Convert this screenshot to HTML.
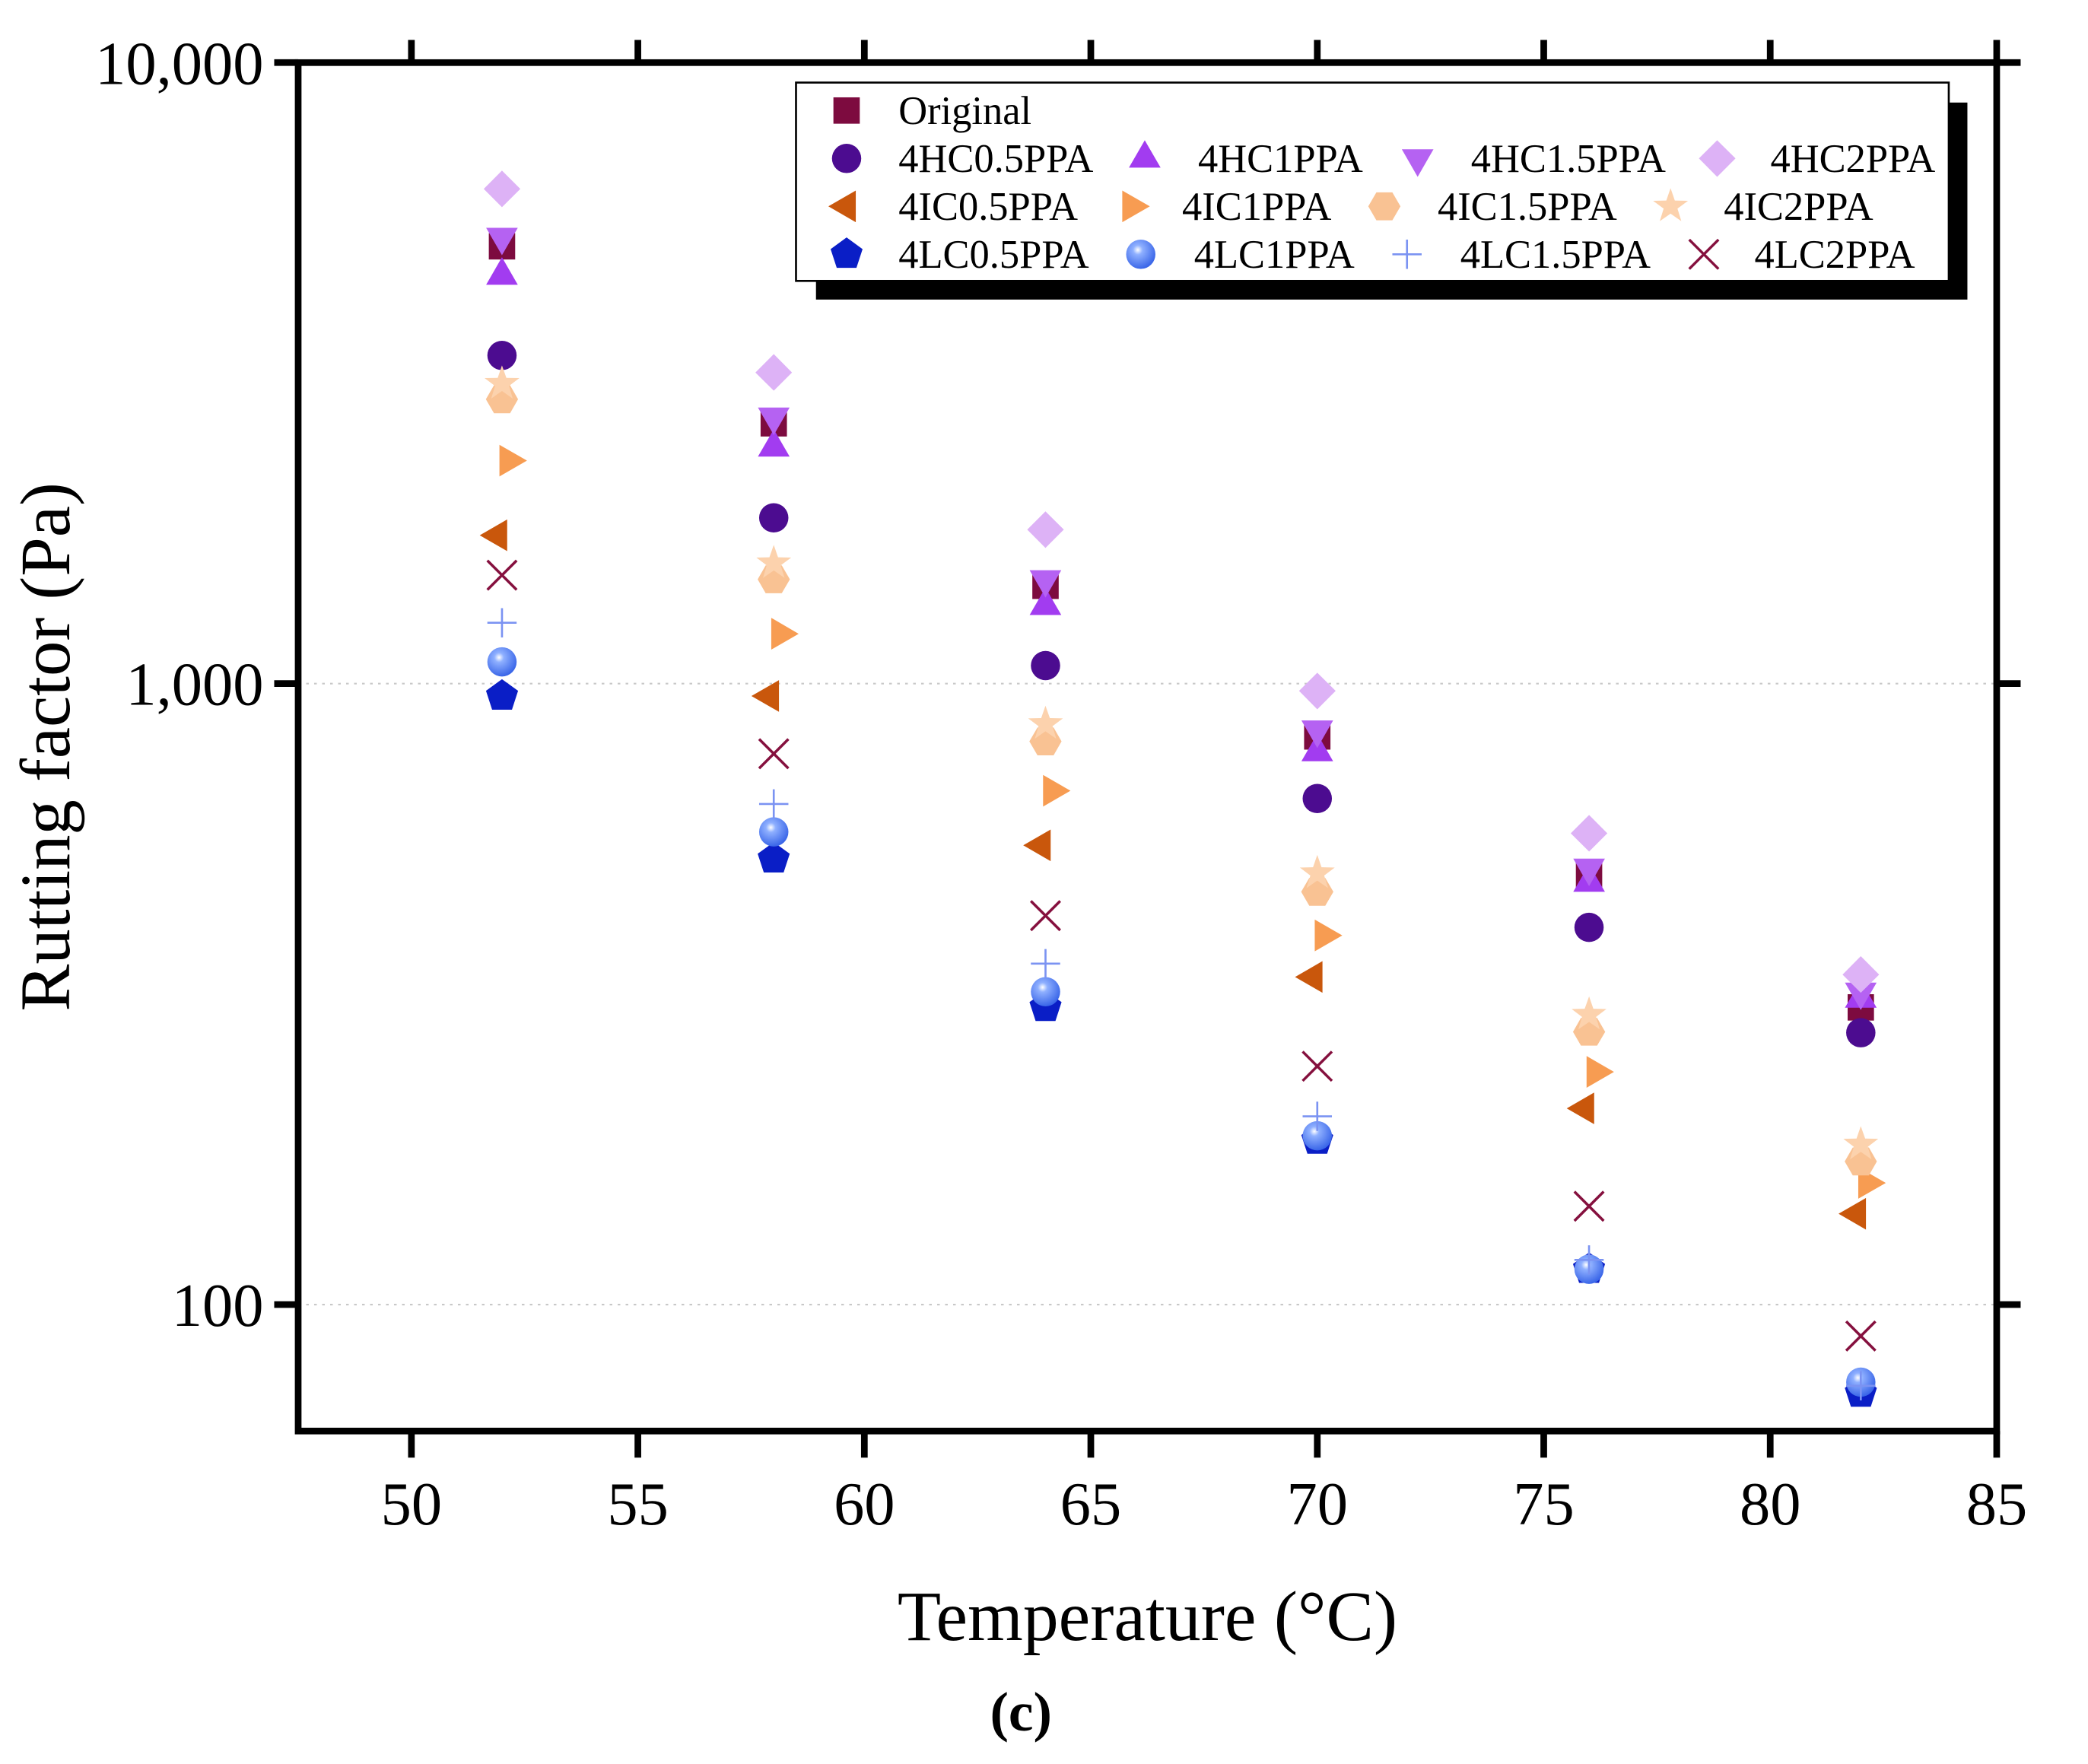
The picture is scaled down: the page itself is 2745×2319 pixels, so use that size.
<!DOCTYPE html>
<html><head><meta charset="utf-8"><style>
html,body{margin:0;padding:0;background:#fff;}
svg{display:block;font-family:"Liberation Serif",serif;}
</style></head><body>
<svg id="chart" width="2745" height="2319" viewBox="0 0 1568.6 1325.1" xmlns="http://www.w3.org/2000/svg"></svg>
<script>
const temps=[52,58,64,70,76,82];
const seriesNames=["Original","4HC0.5PPA","4HC1PPA","4HC1.5PPA","4HC2PPA","4IC0.5PPA","4IC1PPA","4IC1.5PPA","4IC2PPA","4LC0.5PPA","4LC1PPA","4LC1.5PPA","4LC2PPA"];
const vOriginal=[5060,2625,1437,822,492,301];
const vHC05=[3376,1849,1069,653,405,274];
const vHC1=[4540,2400,1334,776,478,311];
const vHC15=[5240,2690,1472,843,505,319];
const vHC2=[6260,3170,1770,973,574,340];
const vIC05=[1733,955,549,337,207,140];
const vIC1=[2286,1203,672,393,237,157];
const vIC15=[2870,1472,807,462,275,170];
const vIC2=[3040,1563,861,495,293,181];
const vLC05=[955,522,301,184,114,72];
const vLC1=[1084,577,319,187,114,75];
const vLC15=[1253,640,354,201,118,74];
const vLC2=[1495,771,423,242,144,89];
const xTicks=[50,55,60,65,70,75,80,85];
const yTicks=[100,1000,10000];
const yTickLabels=["100","1,000","10,000"];

const svg=document.getElementById('chart');
const NS="http://www.w3.org/2000/svg";
const L=224,R=1500,T=47,B=1075;
const X=v=>L+(v-47.5)/(85-47.5)*(R-L);
const Y=v=>47+(4-Math.log10(v))*466.5;
function mk(tag,attrs,parent){const e=document.createElementNS(NS,tag);for(const k in attrs)e.setAttribute(k,attrs[k]);(parent||svg).appendChild(e);return e;}

const defs=mk('defs',{});
const g=mk('radialGradient',{id:'sph',cx:'0.4',cy:'0.35',r:'0.65'},defs);
mk('stop',{offset:'0',  'stop-color':'#ffffff'},g);
mk('stop',{offset:'0.25','stop-color':'#8fb0ff'},g);
mk('stop',{offset:'1','stop-color':'#3a66e8'},g);

const styles=[
 {c:'#7d0b3f',s:'square'},{c:'#4c0c90',s:'circle'},{c:'#a23cf0',s:'tri'},{c:'#b562f2',s:'tridown'},
 {c:'#ddb2f6',s:'diamond'},{c:'#c9570c',s:'left'},{c:'#f79c52',s:'right'},{c:'#f9c293',s:'hex'},
 {c:'#fcd2ad',s:'star'},{c:'#0a1ec6',s:'pent'},{c:'url(#sph)',s:'sphere'},{c:'#7b93f2',s:'plus'},{c:'#85103e',s:'x'}];
const vals=[vOriginal,vHC05,vHC1,vHC15,vHC2,vIC05,vIC1,vIC15,vIC2,vLC05,vLC1,vLC15,vLC2];
const offs=[0,0,0,0,0,-3,5,0,0,0,0,0,0];

function marker(parent,st,x,y,r){
 r=r||11;const c=st.c;let e;
 const poly=(n,rot,rr)=>{let p=[];for(let i=0;i<n;i++){const a=rot+i*2*Math.PI/n;p.push((x+rr*Math.cos(a)).toFixed(1)+','+(y+rr*Math.sin(a)).toFixed(1));}return p.join(' ');};
 switch(st.s){
  case 'square':e=mk('rect',{x:x-r*0.9,y:y-r*0.9,width:r*1.8,height:r*1.8,fill:c},parent);break;
  case 'circle':e=mk('circle',{cx:x,cy:y,r:r,fill:c},parent);break;
  case 'sphere':e=mk('circle',{cx:x,cy:y,r:r,fill:c},parent);break;
  case 'tri':e=mk('polygon',{points:poly(3,-Math.PI/2,r*1.25),fill:c},parent);break;
  case 'tridown':e=mk('polygon',{points:poly(3,Math.PI/2,r*1.25),fill:c},parent);break;
  case 'left':e=mk('polygon',{points:poly(3,Math.PI,r*1.25),fill:c},parent);break;
  case 'right':e=mk('polygon',{points:poly(3,0,r*1.25),fill:c},parent);break;
  case 'diamond':e=mk('polygon',{points:poly(4,0,r*1.25),fill:c},parent);break;
  case 'hex':e=mk('polygon',{points:poly(6,0,r*1.1),fill:c},parent);break;
  case 'pent':e=mk('polygon',{points:poly(5,-Math.PI/2,r*1.15),fill:c},parent);break;
  case 'star':{let p=[];for(let i=0;i<10;i++){const a=-Math.PI/2+i*Math.PI/5;const rr=i%2?r*0.5:r*1.25;p.push((x+rr*Math.cos(a)).toFixed(1)+','+(y+rr*Math.sin(a)).toFixed(1));}e=mk('polygon',{points:p.join(' '),fill:c},parent);break;}
  case 'plus':e=mk('path',{d:`M${x-r} ${y}H${x+r}M${x} ${y-r}V${y+r}`,stroke:c,'stroke-width':1.5,fill:'none'},parent);break;
  case 'x':e=mk('path',{d:`M${x-r} ${y-r}L${x+r} ${y+r}M${x-r} ${y+r}L${x+r} ${y-r}`,stroke:c,'stroke-width':2,fill:'none'},parent);break;
 }
 return e;
}

yTicks.slice(0,2).forEach(v=>{const gl=mk('line',{x1:L,x2:R,y1:Y(v),y2:Y(v),stroke:'#c8c8c8','stroke-width':1.2,'stroke-dasharray':'2,4'});

});

vals.forEach((arr,si)=>{
 const grp=mk('g',{});
 
 
 arr.forEach((v,i)=>{const m=marker(grp,styles[si],X(temps[i])+offs[si],Y(v));
  
  });
});

const frame=mk('rect',{x:L,y:T,width:R-L,height:B-T,fill:'none',stroke:'#000','stroke-width':5});


xTicks.forEach(v=>{
 mk('line',{x1:X(v),x2:X(v),y1:B,y2:B+20,stroke:'#000','stroke-width':5});
 mk('line',{x1:X(v),x2:X(v),y1:T,y2:T-17,stroke:'#000','stroke-width':5});
 const t=mk('text',{x:X(v),y:1145,'font-size':46,'text-anchor':'middle',fill:'#000'});t.textContent=v;
 
 
});
yTicks.forEach((v,i)=>{
 mk('line',{x1:L-18,x2:L,y1:Y(v),y2:Y(v),stroke:'#000','stroke-width':5});
 mk('line',{x1:R,x2:R+18,y1:Y(v),y2:Y(v),stroke:'#000','stroke-width':5});
 const t=mk('text',{x:198,y:Y(v)+16,'font-size':46,'text-anchor':'end',fill:'#000'});t.textContent=yTickLabels[i];
 
 
});
const xt=mk('text',{x:862,y:1232,'font-size':53.5,'text-anchor':'middle',fill:'#000'});xt.textContent='Temperature (°C)';


const ct=mk('text',{x:767,y:1300,'font-size':42,'font-weight':'bold','text-anchor':'middle',fill:'#000'});ct.textContent='(c)';


const yt=mk('text',{x:0,y:0,'font-size':53,'text-anchor':'middle',fill:'#000',transform:'translate(52,561) rotate(-90)'});yt.textContent='Rutting factor (Pa)';



const lg=mk('g',{});


mk('rect',{x:613,y:77,width:865,height:148,fill:'#000'},lg);
mk('rect',{x:598,y:62,width:866,height:149,fill:'#fff',stroke:'#000','stroke-width':1.5},lg);
const legPos=[[636,675,83],[636,675,119],[860,900,119],[1065,1105,119],[1290,1330,119],
 [636,675,155],[850,888,155],[1040,1080,155],[1255,1295,155],
 [636,675,191],[857,897,191],[1057,1097,191],[1280,1318,191]];
seriesNames.forEach((n,i)=>{const p=legPos[i];
 const e=mk('g',{},lg);
 
 
 marker(e,styles[i],p[0],p[2],11);
 const t=mk('text',{x:p[1],y:p[2]+10,'font-size':30,fill:'#000'},e);t.textContent=n;
});
</script>
</body></html>
